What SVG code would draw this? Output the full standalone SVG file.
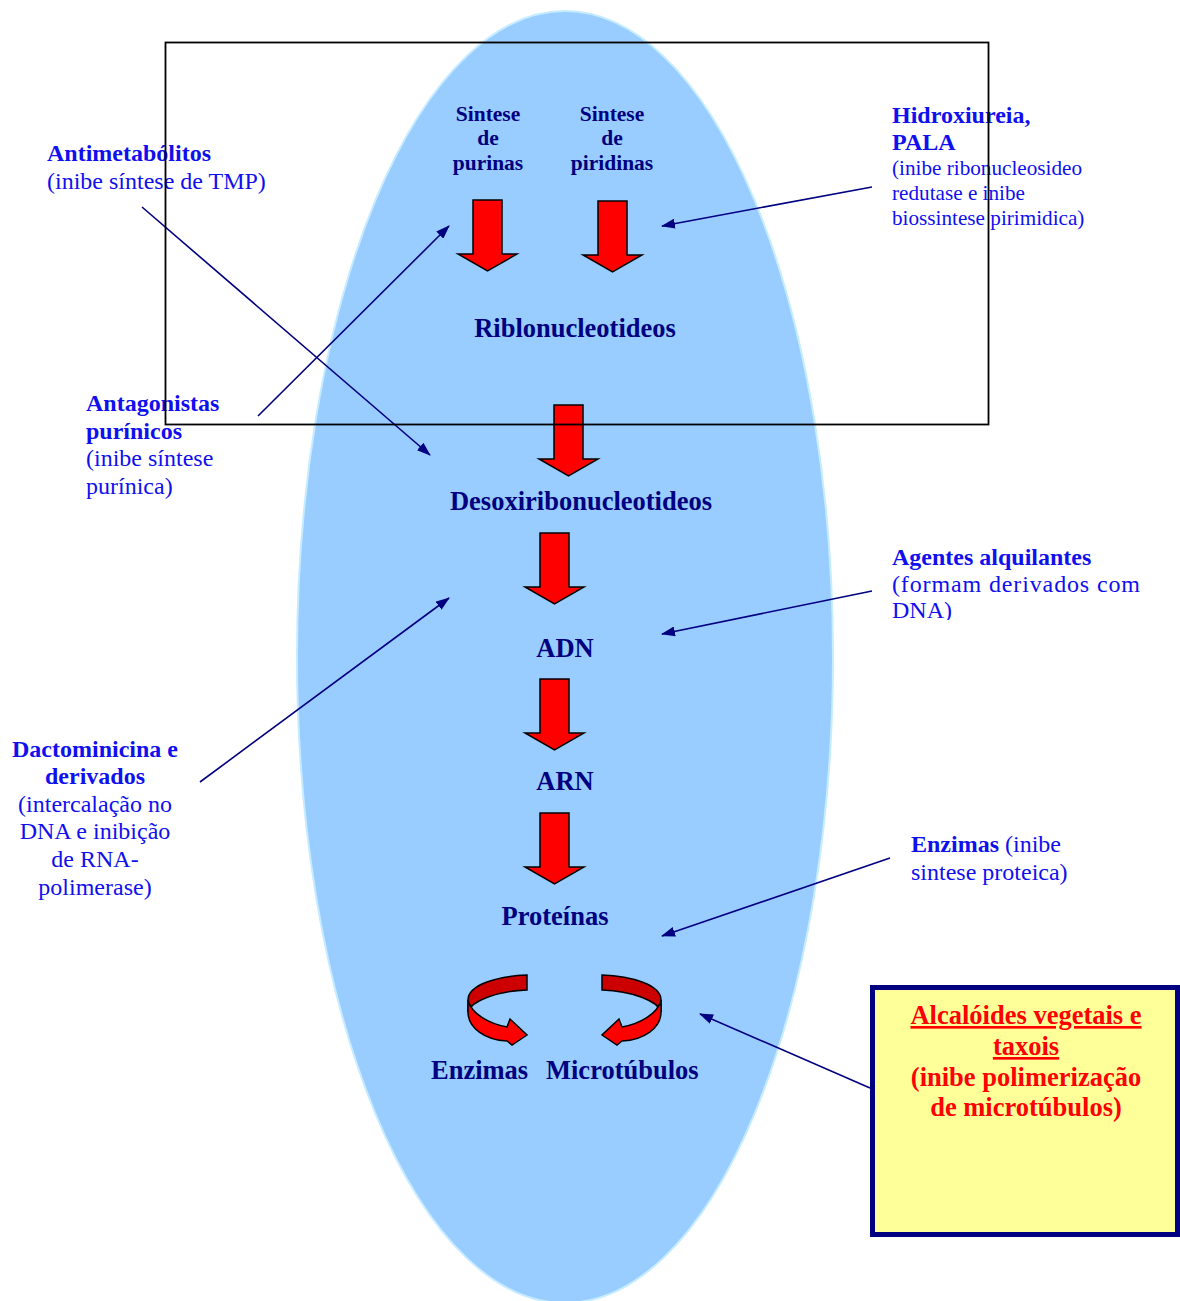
<svg xmlns="http://www.w3.org/2000/svg" width="1180" height="1301" viewBox="0 0 1180 1301">
<defs>
<style>
.nv{font-family:"Liberation Serif",serif;font-weight:bold;fill:#000080}
.bb{font-family:"Liberation Serif",serif;font-weight:bold;fill:#1010ee}
.bn{font-family:"Liberation Serif",serif;fill:#1010ee}
.rd{font-family:"Liberation Serif",serif;font-weight:bold;fill:#ff0000}
.blk{fill:#ff0000;stroke:#000;stroke-width:1.5;stroke-linejoin:miter}
.con{stroke:#000080;stroke-width:1.6;fill:none;marker-end:url(#ah)}
</style>
<marker id="ah" viewBox="0 0 14 10" refX="13" refY="5" markerWidth="14" markerHeight="10" markerUnits="userSpaceOnUse" orient="auto">
<path d="M0,0 L14,5 L0,10 Z" fill="#000080"/>
</marker>
<clipPath id="clipAg"><rect x="880" y="530" width="300" height="90"/></clipPath>
<path id="darr" d="M0,0 L29,0 L29,54 L44,54 L14.5,71 L-15,54 L0,54 Z"/>
</defs>
<rect width="1180" height="1301" fill="#fff"/>
<ellipse cx="565" cy="657" rx="268" ry="646" fill="#99ccff" stroke="#c6ecff" stroke-width="2"/>

<g id="arrows-main">
<use href="#darr" class="blk" x="473" y="200"/>
<use href="#darr" class="blk" x="598" y="201"/>
<use href="#darr" class="blk" x="554" y="405"/>
<use href="#darr" class="blk" x="540" y="533"/>
<use href="#darr" class="blk" x="540" y="679"/>
<use href="#darr" class="blk" x="540" y="813"/>
</g>

<g id="curl-left">
<path d="M527,975 C497,976 468,985 468,1000 L468,1012 C471,1001 497,991 527,990 Z" fill="#cc0000" stroke="#000" stroke-width="1.5"/>
<path d="M468,1000 C471,1014 490,1024 507,1027 L510,1019 L527,1035 L512,1045 L507,1041 C485,1040 468,1028 468,1012 Z" fill="#ff0000" stroke="#000" stroke-width="1.5"/>
</g>
<g id="curl-right" transform="translate(1129,0) scale(-1,1)">
<path d="M527,975 C497,976 468,985 468,1000 L468,1012 C471,1001 497,991 527,990 Z" fill="#cc0000" stroke="#000" stroke-width="1.5"/>
<path d="M468,1000 C471,1014 490,1024 507,1027 L510,1019 L527,1035 L512,1045 L507,1041 C485,1040 468,1028 468,1012 Z" fill="#ff0000" stroke="#000" stroke-width="1.5"/>
</g>

<g id="n-purinas" class="nv" font-size="21.5" text-anchor="middle">
<text x="488" y="121">Sintese</text>
<text x="488" y="145">de</text>
<text x="488" y="170">purinas</text>
</g>
<g id="n-piridinas" class="nv" font-size="21.5" text-anchor="middle">
<text x="612" y="121">Sintese</text>
<text x="612" y="145">de</text>
<text x="612" y="170">piridinas</text>
</g>
<g id="n-ribo" class="nv" font-size="26.5" text-anchor="middle"><text x="575" y="337">Riblonucleotideos</text></g>
<g id="n-desoxi" class="nv" font-size="26.5" text-anchor="middle"><text x="581" y="510">Desoxiribonucleotideos</text></g>
<g id="n-adn" class="nv" font-size="26.5" text-anchor="middle"><text x="565" y="657">ADN</text></g>
<g id="n-arn" class="nv" font-size="26.5" text-anchor="middle"><text x="565" y="790">ARN</text></g>
<g id="n-prot" class="nv" font-size="26.5" text-anchor="middle"><text x="555" y="925">Proteínas</text></g>
<g id="n-enz" class="nv" font-size="26.5"><text x="431" y="1079">Enzimas</text></g>
<g id="n-micro" class="nv" font-size="26.5"><text x="546" y="1079">Microtúbulos</text></g>

<g id="n-antimet" font-size="24">
<text class="bb" x="47" y="161">Antimetabólitos</text>
<text class="bn" x="47" y="189">(inibe síntese de TMP)</text>
</g>
<g id="n-hidrox">
<text class="bb" x="892" y="123" font-size="24">Hidroxiureia,</text>
<text class="bb" x="892" y="150" font-size="24">PALA</text>
<text class="bn" x="892" y="175" font-size="21.2">(inibe ribonucleosideo</text>
<text class="bn" x="892" y="200" font-size="21.2">redutase e inibe</text>
<text class="bn" x="892" y="225" font-size="21.2">biossintese pirimidica)</text>
</g>
<g id="n-antag" font-size="24">
<text class="bb" x="86" y="411">Antagonistas</text>
<text class="bb" x="86" y="439">purínicos</text>
<text class="bn" x="86" y="466">(inibe síntese</text>
<text class="bn" x="86" y="494">purínica)</text>
</g>
<g id="n-agentes" font-size="24" clip-path="url(#clipAg)">
<text class="bb" x="892" y="565">Agentes alquilantes</text>
<text class="bn" x="892" y="592" textLength="248" lengthAdjust="spacing">(formam derivados com</text>
<text class="bn" x="892" y="618">DNA)</text>
</g>
<g id="n-dacto" font-size="24" text-anchor="middle">
<text class="bb" x="95" y="757">Dactominicina e</text>
<text class="bb" x="95" y="784">derivados</text>
<text class="bn" x="95" y="812">(intercalação no</text>
<text class="bn" x="95" y="839">DNA e inibição</text>
<text class="bn" x="95" y="867">de RNA-</text>
<text class="bn" x="95" y="895">polimerase)</text>
</g>
<g id="n-enzimas-inib" font-size="24">
<text x="911" y="852"><tspan class="bb">Enzimas</tspan><tspan class="bn"> (inibe</tspan></text>
<text class="bn" x="911" y="880">sintese proteica)</text>
</g>
<g id="n-alcal">
<rect x="872.5" y="987.5" width="305" height="247" fill="#ffff99" stroke="#000080" stroke-width="5"/>
<g class="rd" font-size="26.5" text-anchor="middle">
<text x="1026" y="1024" text-decoration="underline">Alcalóides vegetais e</text>
<text x="1026" y="1055" text-decoration="underline">taxois</text>
<text x="1026" y="1086">(inibe polimerização</text>
<text x="1026" y="1116">de microtúbulos)</text>
</g>
</g>

<g id="connectors">
<line class="con" x1="142" y1="207" x2="430" y2="455"/>
<line class="con" x1="258" y1="416" x2="449" y2="226"/>
<line class="con" x1="872" y1="187" x2="662" y2="226"/>
<line class="con" x1="872" y1="591" x2="662" y2="634"/>
<line class="con" x1="200" y1="782" x2="449" y2="598"/>
<line class="con" x1="890" y1="858" x2="662" y2="936"/>
<line class="con" x1="870" y1="1088" x2="700" y2="1014"/>
</g>

<g id="frame">
<rect x="165.5" y="42.5" width="823" height="382" fill="none" stroke="#000" stroke-width="1.8"/>
</g>
</svg>
